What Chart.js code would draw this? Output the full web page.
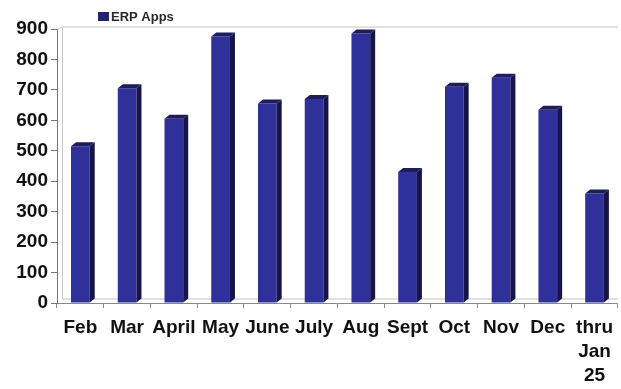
<!DOCTYPE html>
<html lang="en">
<head>
  <meta charset="UTF-8" />
  <title>ERP Apps</title>
  <script src="https://cdn.jsdelivr.net/npm/chart.js"></script>
  <style>
    body {
      margin: 0;
      background-color: #ffffff;
    }
    #chartBox {
      width: 621px;
      height: 389px;
    }
  </style>
</head>
<body>
  <div id="chartBox">
    <canvas id="erpChart"></canvas>
  </div>

  <script>
    const months = ["Feb", "Mar", "April", "May", "June", "July", "Aug", "Sept", "Oct", "Nov", "Dec", ["thru", "Jan", "25"]];
    const erpApps = [515, 705, 605, 875, 655, 670, 885, 430, 710, 740, 635, 360];
    const yTicks = [0, 100, 200, 300, 400, 500, 600, 700, 800, 900];

    const FONT = "'Liberation Sans', Arial, sans-serif";
    const depthX = 5, depthY = 4;

    // fake 3D look: back wall lines, bar sides/tops, small legend
    const wallPlugin = {
      id: "wall",
      beforeDatasetsDraw(chart) {
        const { ctx, chartArea: a } = chart;
        ctx.save();
        ctx.strokeStyle = "#c4c4c4";
        ctx.lineWidth = 1;
        ctx.beginPath();
        ctx.moveTo(a.left, a.top + 1);
        ctx.lineTo(a.left + depthX, a.top - 2);
        ctx.lineTo(a.right, a.top - 2);
        ctx.moveTo(a.left + depthX + 0.5, a.top - 2);
        ctx.lineTo(a.left + depthX + 0.5, a.bottom - depthY);
        ctx.lineTo(a.right, a.bottom - depthY);
        ctx.stroke();
        ctx.restore();
      }
    };

    const barsPlugin = {
      id: "bars3d",
      afterDatasetsDraw(chart) {
        const { ctx } = chart;
        const meta = chart.getDatasetMeta(0);
        ctx.save();
        meta.data.forEach(bar => {
          const { x, y, width, base } = bar.getProps(["x", "y", "width", "base"], true);
          const l = x - width / 2, r = x + width / 2;
          ctx.fillStyle = "#15154a";
          ctx.beginPath();
          ctx.moveTo(r, y);
          ctx.lineTo(r + depthX, y - depthY);
          ctx.lineTo(r + depthX, base - depthY);
          ctx.lineTo(r, base);
          ctx.closePath();
          ctx.fill();
          ctx.fillStyle = "#1d1d5c";
          ctx.beginPath();
          ctx.moveTo(l, y);
          ctx.lineTo(l + depthX, y - depthY);
          ctx.lineTo(r + depthX, y - depthY);
          ctx.lineTo(r, y);
          ctx.closePath();
          ctx.fill();
        });
        ctx.restore();
      },
      afterDraw(chart) {
        const { ctx } = chart;
        const ds = chart.data.datasets[0];
        ctx.save();
        ctx.fillStyle = "#22226e";
        ctx.fillRect(98, 12, 11, 9);
        ctx.fillStyle = "#2a2a2a";
        ctx.font = "bold 13px " + FONT;
        ctx.textBaseline = "middle";
        ctx.fillText(ds.label, 111, 17);
        ctx.restore();
      }
    };

    new Chart(document.getElementById("erpChart"), {
      type: "bar",
      data: {
        labels: months,
        datasets: [{
          label: "ERP Apps",
          data: erpApps,
          backgroundColor: "#30309a",
          borderWidth: 0,
          barPercentage: 0.4,
          categoryPercentage: 1.0
        }]
      },
      options: {
        responsive: true,
        maintainAspectRatio: false,
        animation: false,
        layout: {
          padding: { top: 29, right: 0, left: 0, bottom: 0 }
        },
        plugins: {
          legend: { display: false },
          tooltip: { enabled: false }
        },
        scales: {
          x: {
            grid: {
              drawOnChartArea: false,
              tickLength: 5,
              color: "#888888"
            },
            border: { color: "#888888" },
            ticks: {
              color: "#111111",
              autoSkip: false,
              maxRotation: 0,
              padding: 8,
              font: { family: FONT, size: 19, weight: "bold", lineHeight: 1.25 }
            },
            afterFit(scale) { scale.height = 86; }
          },
          y: {
            min: 0,
            max: 900,
            afterBuildTicks(scale) {
              scale.ticks = yTicks.map(v => ({ value: v }));
            },
            grid: {
              drawOnChartArea: false,
              tickLength: 6,
              color: "#777777"
            },
            border: { color: "#777777" },
            ticks: {
              color: "#111111",
              padding: 3,
              font: { family: FONT, size: 19, weight: "bold" }
            },
            afterFit(scale) { scale.width = 57; }
          }
        }
      },
      plugins: [wallPlugin, barsPlugin]
    });
  </script>
</body>
</html>
